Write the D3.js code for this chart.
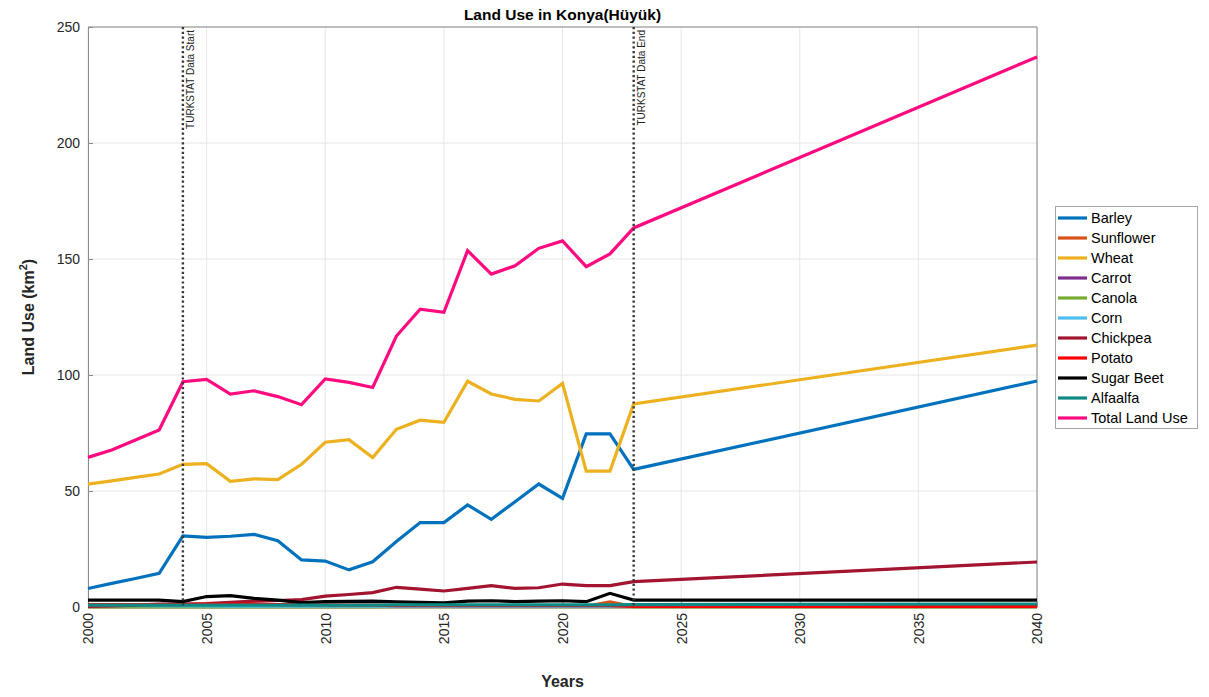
<!DOCTYPE html>
<html><head><meta charset="utf-8">
<script src="https://cdn.jsdelivr.net/npm/d3@7"></script>
<style>body{margin:0;background:#fff;}svg{display:block;font-family:"Liberation Sans",Arial,sans-serif;}</style>
</head><body>
<script>
const years = [2000,2001,2002,2003,2004,2005,2006,2007,2008,2009,2010,2011,2012,2013,2014,2015,2016,2017,2018,2019,2020,2021,2022,2023,2040];
const barley = [8.0,10.2,12.3,14.5,30.6,30.0,30.5,31.3,28.6,20.3,19.8,16.0,19.5,28.2,36.4,36.4,44.0,37.8,45.4,53.0,46.8,74.6,74.6,59.3,97.4];
const sunflower = [0.2,0.2,0.2,0.2,0.2,0.2,0.2,0.2,0.2,0.2,0.2,0.2,0.2,0.3,0.3,0.3,0.3,0.3,0.3,0.3,0.3,0.3,2.2,0.2,0.2];
const wheat = [53.0,54.4,55.9,57.3,61.5,61.8,54.2,55.2,54.9,61.5,71.0,72.1,64.4,76.6,80.5,79.6,97.3,91.8,89.5,88.8,96.4,58.6,58.6,87.5,112.9];
const carrot = [0.1,0.1,0.1,0.1,0.1,0.1,0.1,0.1,0.1,0.1,0.1,0.1,0.1,0.1,0.1,0.1,0.1,0.1,0.1,0.1,0.1,0.1,0.1,0.1,0.1];
const canola = [0,0,0,0,0,0,0,0,0,0,0,0,0,0,0,0,0,0,0,0,0,0,0,0,0];
const corn = [0.6,0.6,0.6,0.5,0.5,0.5,0.4,0.4,0.4,0.4,0.4,0.4,0.4,0.3,0.3,0.3,0.3,0.3,0.3,0.3,0.3,0.3,0.3,0.3,0.3];
const chickpea = [0.3,0.5,0.8,1.2,1.3,1.5,2.0,2.5,2.8,3.2,4.7,5.4,6.2,8.5,7.7,6.9,8.0,9.2,8.0,8.3,9.9,9.2,9.2,10.9,19.4];
const potato = [1.0,1.0,1.0,1.0,1.0,1.2,1.2,1.2,1.0,1.0,0.9,0.8,0.8,0.6,0.6,0.6,0.6,0.6,0.6,0.6,0.6,0.6,0.6,0.3,0.3];
const sugarBeet = [3.0,3.0,3.0,3.0,2.3,4.5,4.9,3.7,3.0,1.9,2.3,2.4,2.5,2.2,2.0,1.8,2.5,2.7,2.3,2.5,2.7,2.3,5.9,3.0,3.0];
const alfaalfa = [0.8,0.8,0.8,0.8,0.8,0.8,0.8,0.8,0.8,0.8,0.8,0.8,0.8,0.9,0.9,0.9,0.9,0.9,0.9,0.9,0.9,0.9,0.9,1.0,1.3];
const totalLand = [64.5,67.7,72.0,76.3,97.1,98.1,91.8,93.2,90.7,87.2,98.3,96.8,94.6,116.8,128.4,127.0,153.6,143.5,147.1,154.6,157.8,146.7,152.2,163.4,237.1];
const seriesNames = ["Barley","Sunflower","Wheat","Carrot","Canola","Corn","Chickpea","Potato","Sugar Beet","Alfaalfa","Total Land Use"];
const seriesValues = [barley,sunflower,wheat,carrot,canola,corn,chickpea,potato,sugarBeet,alfaalfa,totalLand];
const seriesColors = ["#0072BD","#D95319","#EDB120","#7E2F8E","#77AC30","#4DBEEE","#A2142F","#FF0000","#000000","#0E8A85","#FF0A7F"];
const xTicks = [2000,2005,2010,2015,2020,2025,2030,2035,2040];
const yTicks = [0,50,100,150,200,250];
const markers = [{year:2004,label:"TURKSTAT Data Start"},{year:2023,label:"TURKSTAT Data End"}];

const W = 1209, H = 697;
const m = {l:88, r:1037, t:27, b:607};
const svg = d3.select("body").append("svg").attr("width",W).attr("height",H);
const x = d3.scaleLinear().domain([2000,2040]).range([m.l,m.r]);
const y = d3.scaleLinear().domain([0,250]).range([m.b,m.t]);

// grid
svg.append("g").selectAll("line").data(xTicks).join("line")
  .attr("x1",d=>x(d)).attr("x2",d=>x(d)).attr("y1",m.t).attr("y2",m.b)
  .attr("stroke","#e6e6e6").attr("stroke-width",1);
svg.append("g").selectAll("line").data(yTicks).join("line")
  .attr("x1",m.l).attr("x2",m.r).attr("y1",d=>y(d)).attr("y2",d=>y(d))
  .attr("stroke","#e6e6e6").attr("stroke-width",1);

// axes
const xAxis = svg.append("g").attr("transform",`translate(0,${m.b})`)
  .call(d3.axisBottom(x).tickValues(xTicks).tickFormat(d3.format("d")).tickSizeInner(-5).tickSizeOuter(0));
xAxis.selectAll("text").attr("transform","rotate(-90)").attr("text-anchor","end")
  .attr("x",-6).attr("y",0).attr("dy","0.35em").attr("font-size",14).attr("fill","#262626")
  .attr("font-family","Liberation Sans, Arial, sans-serif");
const yAxis = svg.append("g").attr("transform",`translate(${m.l},0)`)
  .call(d3.axisLeft(y).tickValues(yTicks).tickSizeInner(-5).tickSizeOuter(0));
yAxis.selectAll("text").attr("x",-8).attr("font-size",14).attr("fill","#262626")
  .attr("font-family","Liberation Sans, Arial, sans-serif");
svg.selectAll(".domain").attr("stroke","#8a8a8a");
svg.selectAll(".tick line").attr("stroke","#8a8a8a");
// box top/right
svg.append("line").attr("x1",m.l).attr("x2",m.r).attr("y1",m.t).attr("y2",m.t).attr("stroke","#8a8a8a");
svg.append("line").attr("x1",m.r).attr("x2",m.r).attr("y1",m.t).attr("y2",m.b).attr("stroke","#8a8a8a");

// lines
const line = d3.line().x((d,i)=>x(years[i])).y(d=>y(d));
const gl = svg.append("g");
seriesValues.forEach((vals,k)=>{
  gl.append("path").datum(vals).attr("d",line).attr("fill","none")
    .attr("stroke",seriesColors[k]).attr("stroke-width",3.2).attr("stroke-linejoin","miter");
});

// vertical markers
markers.forEach(mk=>{
  svg.append("line").attr("x1",x(mk.year)).attr("x2",x(mk.year)).attr("y1",m.t).attr("y2",m.b)
    .attr("stroke","#3a3a3a").attr("stroke-width",2.4).attr("stroke-dasharray","2.2,2.6");
  svg.append("text").attr("transform",`translate(${x(mk.year)+11.5},${m.t+3}) rotate(-90)`)
    .attr("text-anchor","end").attr("font-size",10).attr("fill","#222").text(mk.label);
});

// title & labels
svg.append("text").attr("x",(m.l+m.r)/2).attr("y",20).attr("text-anchor","middle")
  .attr("font-size",15.5).attr("font-weight","bold").attr("fill","#000").text("Land Use in Konya(Hüyük)");
svg.append("text").attr("x",(m.l+m.r)/2).attr("y",687).attr("text-anchor","middle")
  .attr("font-size",16).attr("font-weight","bold").attr("fill","#262626").text("Years");
const yl = svg.append("text").attr("transform",`translate(34,${(m.t+m.b)/2}) rotate(-90)`)
  .attr("text-anchor","middle").attr("font-size",16).attr("font-weight","bold").attr("fill","#262626");
yl.append("tspan").text("Land Use (km");
yl.append("tspan").attr("font-size",11).attr("dy",-7).text("2");
yl.append("tspan").attr("dy",7).text(")");

// legend
const lg = svg.append("g");
lg.append("rect").attr("x",1055.5).attr("y",206.5).attr("width",142).attr("height",222)
  .attr("fill","#fff").attr("stroke","#a6a6a6");
seriesNames.forEach((n,i)=>{
  const yy = 218 + i*20;
  lg.append("line").attr("x1",1058).attr("x2",1087).attr("y1",yy).attr("y2",yy)
    .attr("stroke",seriesColors[i]).attr("stroke-width",3.2);
  lg.append("text").attr("x",1091).attr("y",yy).attr("dy","0.36em").attr("font-size",14.5)
    .attr("fill","#000").text(n);
});
</script>
</body></html>
